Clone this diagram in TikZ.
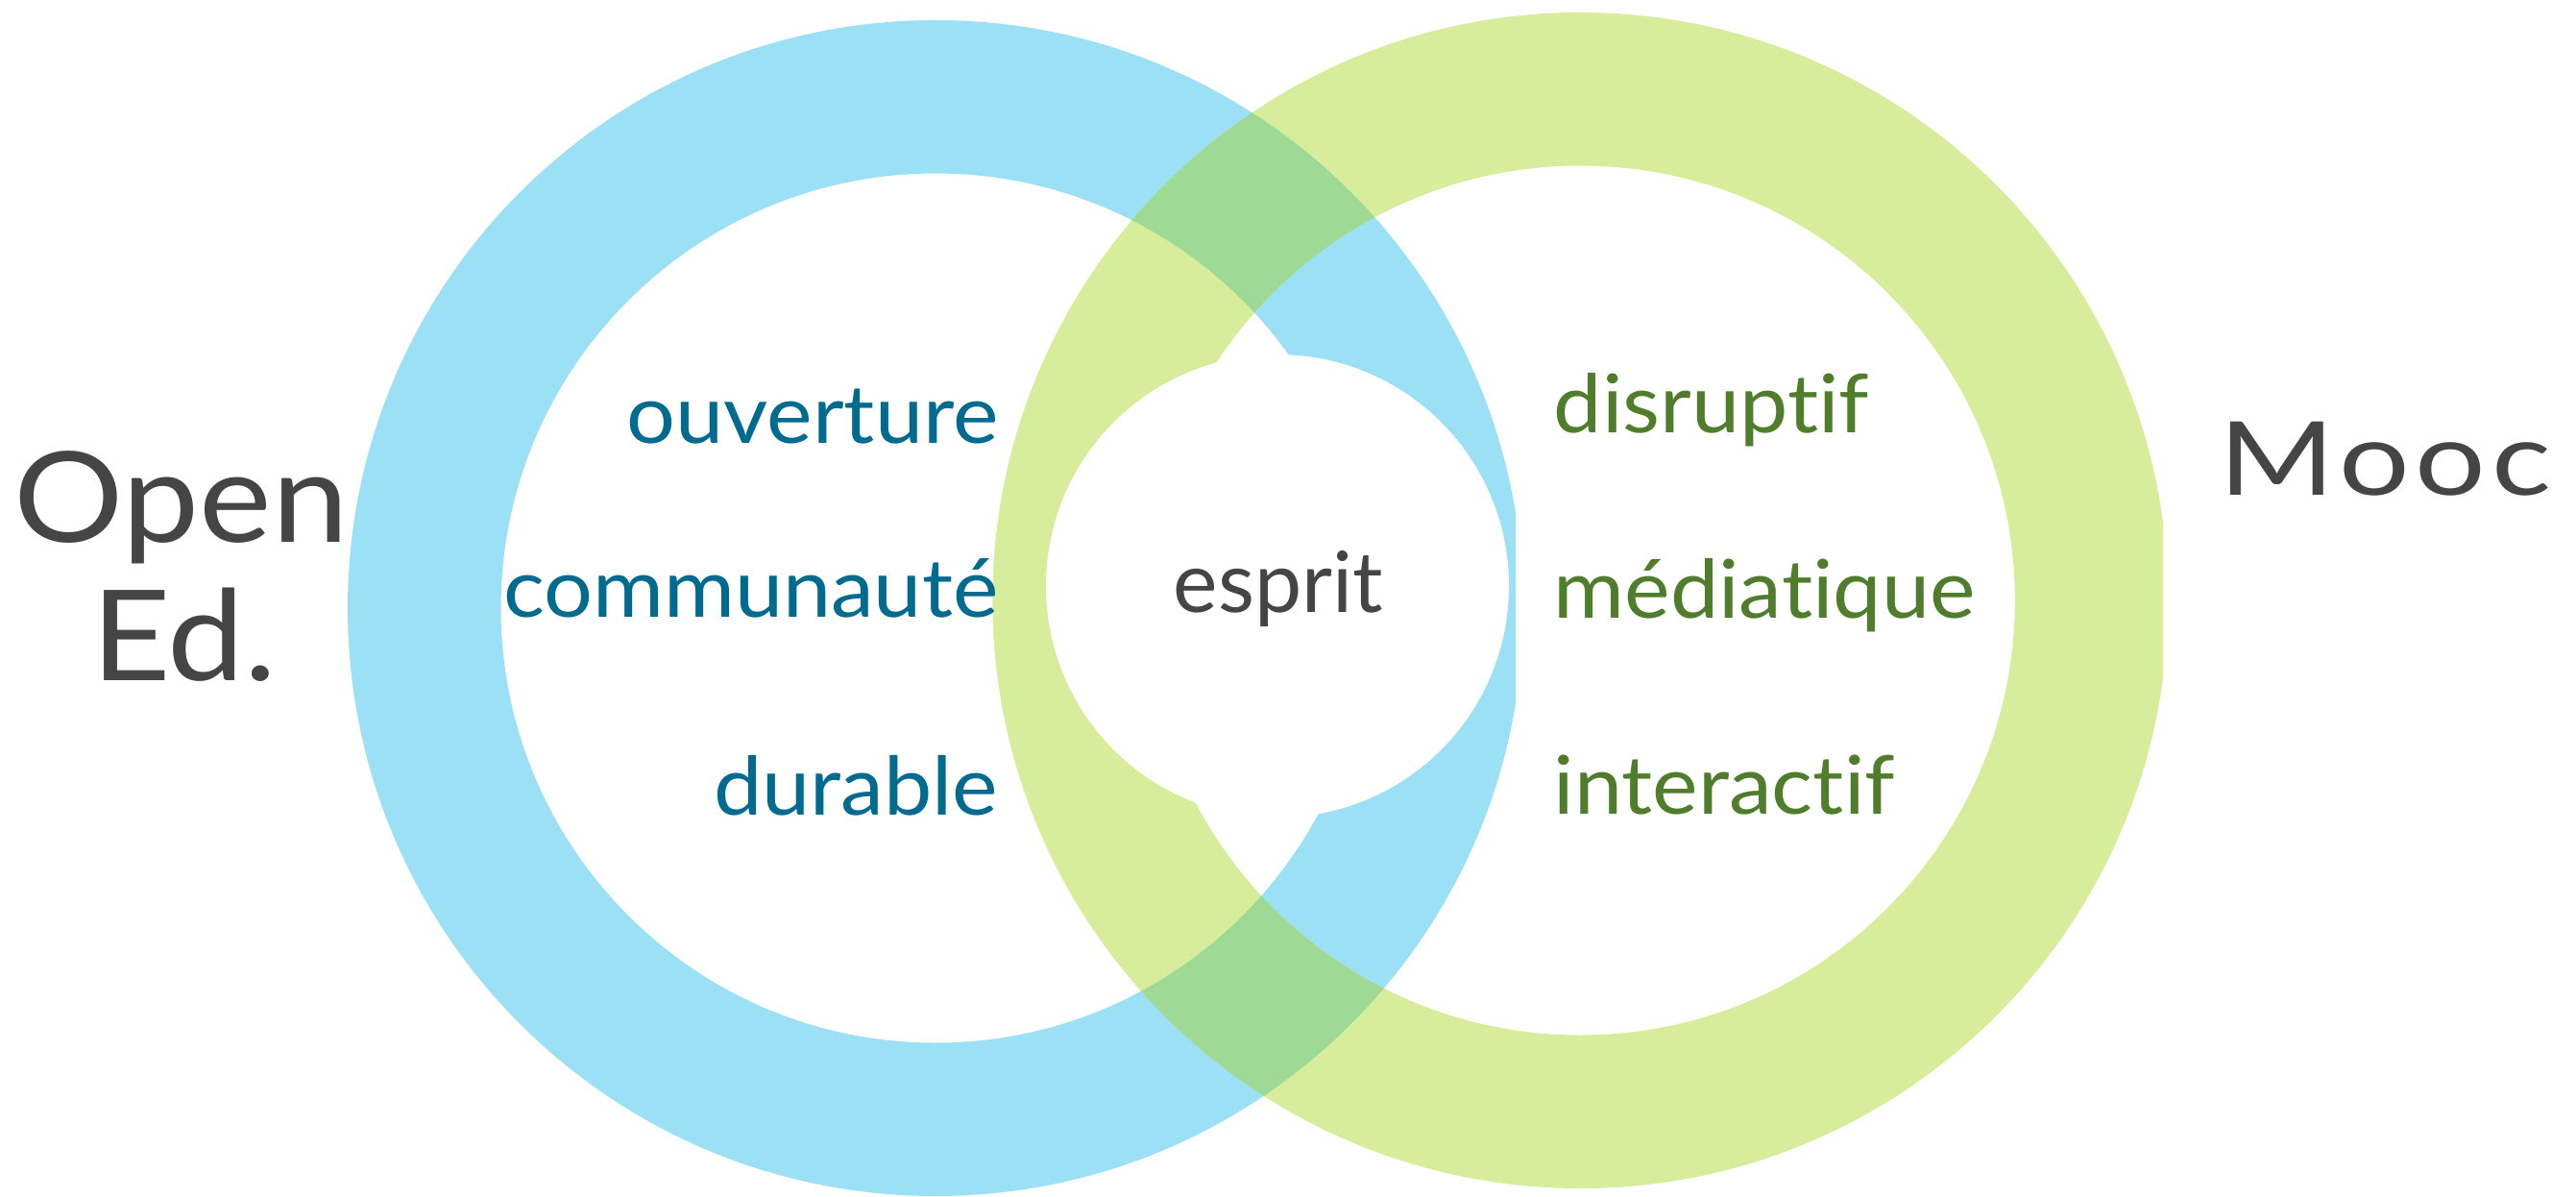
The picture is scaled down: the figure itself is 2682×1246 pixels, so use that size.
\documentclass[tikz,border=0pt]{standalone}
\usepackage{fontspec}
\setmainfont{Lato}[Ligatures=NoCommon]
\newfontfamily\wordfont{Lato}[Ligatures=NoCommon,FakeStretch=1.065]
\newfontfamily\titlefont{Lato}[Ligatures=NoCommon,FakeStretch=1.09]
\newfontfamily\moocfont{Lato}[Ligatures=NoCommon,FakeStretch=1.22,LetterSpace=5.5]
\definecolor{ringblue}{HTML}{9BE0F5}
\definecolor{ringgreen}{HTML}{D8ED9B}
\definecolor{ringboth}{HTML}{9ED995}
\definecolor{wordblue}{HTML}{006B8F}
\definecolor{wordgreen}{HTML}{4F7D2B}
\definecolor{wordgrey}{HTML}{454545}
\tikzset{
    WB/.style ={font=\wordfont\fontsize{24}{28}\selectfont, text=wordblue, inner sep=0pt, anchor=base east},
    WG/.style ={font=\wordfont\fontsize{24}{28}\selectfont, text=wordgreen, inner sep=0pt, anchor=base west},
    WC/.style ={font=\fontsize{25}{30}\selectfont, text=wordgrey, inner sep=0pt, anchor=base},
    WT/.style ={font=\titlefont\fontsize{37.3}{44}\selectfont, text=wordgrey, inner sep=0pt, anchor=base}}
\begin{document}
\begin{tikzpicture}[x=0.1mm,y=-0.1mm]
        \useasboundingbox (0,0) rectangle (2682,1246);
        \begin{scope}
            \clip (0,0) rectangle (1578,1246);
            \fill[ringblue,even odd rule] (974,633) circle (612) (974,633) circle (452.5);
        \end{scope}
        \begin{scope}
            \clip (0,0) rectangle (2252,1246);
            \fill[ringgreen,even odd rule] (1645.3,625) circle (612) (1645.3,625) circle (452.5);
        \end{scope}
        \begin{scope}[even odd rule]
            \clip (974,633) circle (612) (974,633) circle (452.5);
            \fill[ringboth] (1645.3,625) circle (612) (1645.3,625) circle (452.5);
        \end{scope}
        \fill[white] (1330,610) circle (241);
        \node[WB] (ouv) at(1040,461){ouverture};
        \node[WB] (comm) at(1040,642.3){communauté};
        \node[WB] (dur) at(1040,848.3){durable};
        \node[WG] (disr) at(1617,450){disruptif};
        \node[WG] (media) at(1617,643.3){médiatique};
        \node[WG] (inter) at(1617,847.3){interactif};
        \node[WC] (esprit) at(1331,637.3){esprit};
        \node[WT] (open) at(188.7,564.3){Open};
        \node[WT] (ed) at(191.7,708.3){Ed.};
        \node[WT,font=\moocfont\fontsize{30.3}{36}\selectfont,anchor=base west] (mooc) at(2310,515.7){Mooc};
\end{tikzpicture}
\end{document}
